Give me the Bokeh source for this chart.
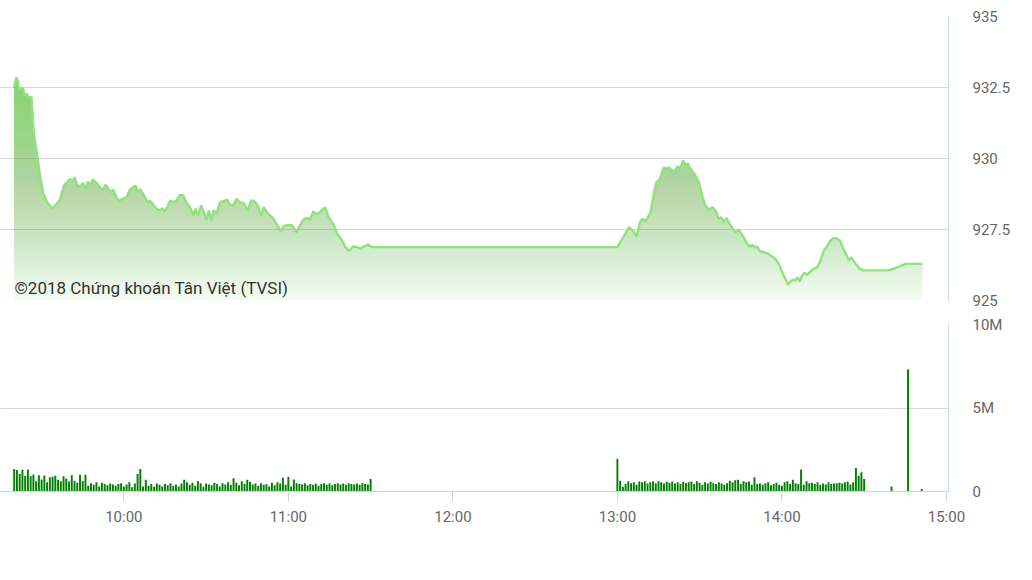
import numpy as np
from bokeh.plotting import figure
from bokeh.layouts import column
from bokeh.models import Range1d, FixedTicker, Label
from bokeh.embed import file_html
from bokeh.resources import INLINE

# ---------------- data ----------------
# price line: time in minutes after 09:00, index value
price_min = [
    19.9, 20.8, 21.3, 21.7, 22.5, 23.3, 23.8, 24.5, 25.3, 26.3,
    27.1, 28.4, 29.6, 30.6, 32.0, 33.9, 35.1, 36.6, 38.1, 39.3,
    40.3, 41.2, 42.0, 43.0, 44.2, 45.2, 46.0, 46.8, 47.8, 48.8,
    50.3, 51.5, 52.5, 53.3, 54.1, 55.1, 56.1, 57.0, 58.1, 59.4,
    61.0, 62.2, 63.4, 64.2, 65.1, 66.1, 67.3, 68.7, 69.5, 70.7,
    71.9, 73.1, 74.1, 74.8, 75.8, 77.0, 78.0, 79.2, 80.4, 81.6,
    82.8, 84.3, 85.3, 86.1, 87.0, 88.2, 89.2, 90.1, 91.0, 92.0,
    92.8, 93.8, 95.0, 96.4, 97.7, 98.6, 99.9, 101.1, 102.3, 103.7,
    105.2, 106.4, 107.6, 108.8, 110.1, 111.0, 112.5, 114.1, 115.7, 117.1,
    118.3, 119.8, 121.4, 123.0, 124.2, 125.4, 126.9, 127.8, 129.1, 130.3,
    131.5, 132.7, 133.5, 134.7, 136.3, 137.8, 139.6, 140.8, 142.0, 143.6,
    145.1, 146.3, 147.5, 149.0, 150.6,
    240.0, 241.8, 244.2, 245.8, 247.0, 248.2, 249.1, 250.3, 252.1, 253.5,
    254.3, 255.5, 256.9, 257.9, 258.8, 259.6, 260.8, 262.0, 263.0, 264.0,
    264.9, 265.7, 266.7, 268.1, 269.7, 270.9, 272.1, 273.4, 274.6, 275.8,
    277.0, 277.9, 278.8, 279.8, 281.3, 283.1, 284.3, 285.9, 287.4, 288.3,
    289.2, 290.0, 291.0, 291.9, 293.4, 295.2, 296.5, 297.7, 298.9, 300.1,
    301.3, 302.2, 303.1, 304.1, 305.0, 305.6, 306.5, 307.4, 308.3, 309.2,
    310.4, 311.6, 312.9, 314.1, 315.3, 316.5, 317.7, 318.7, 319.9, 321.1,
    322.4, 323.6, 324.4, 325.3, 326.9, 328.4, 329.7, 339.0, 342.1, 345.1,
    351.2,
]
price_val = [
    932.51, 932.86, 932.75, 932.39, 932.48, 932.45, 932.24, 932.28, 932.16, 932.16,
    930.93, 930.10, 929.28, 928.76, 928.46, 928.23, 928.37, 928.52, 929.05, 929.17,
    929.28, 929.19, 929.34, 929.05, 929.03, 929.14, 928.93, 929.17, 929.11, 929.26,
    929.11, 928.95, 928.93, 929.07, 928.99, 928.81, 928.90, 928.70, 928.49, 928.58,
    928.64, 928.91, 928.99, 929.05, 928.84, 928.91, 928.70, 928.44, 928.52, 928.37,
    928.23, 928.17, 928.25, 928.13, 928.29, 928.52, 928.46, 928.52, 928.72, 928.70,
    928.46, 928.25, 927.99, 928.23, 927.99, 928.35, 928.11, 927.84, 928.17, 927.82,
    928.19, 928.05, 928.46, 928.50, 928.55, 928.38, 928.35, 928.58, 928.46, 928.43,
    928.17, 928.52, 928.50, 928.35, 927.99, 928.29, 928.07, 927.93, 927.70, 927.44,
    927.61, 927.66, 927.64, 927.40, 927.64, 927.84, 927.91, 927.82, 928.14, 928.03,
    928.11, 928.23, 928.26, 927.93, 927.70, 927.35, 927.11, 926.88, 926.74, 926.90,
    926.88, 926.82, 926.90, 926.97, 926.88,
    926.88, 927.17, 927.58, 927.46, 927.25, 927.76, 927.88, 927.79, 928.11, 928.87,
    929.17, 929.28, 929.69, 929.64, 929.69, 929.60, 929.55, 929.72, 929.67, 929.93,
    929.75, 929.83, 929.64, 929.46, 929.17, 928.70, 928.35, 928.19, 928.29, 928.17,
    927.88, 927.93, 927.76, 927.90, 927.64, 927.40, 927.49, 927.25, 926.99, 926.88,
    926.97, 926.86, 926.90, 926.74, 926.70, 926.64, 926.55, 926.45, 926.29, 926.00,
    925.76, 925.55, 925.67, 925.74, 925.70, 925.82, 925.67, 925.88, 925.98, 925.90,
    926.02, 926.12, 926.17, 926.41, 926.76, 926.91, 927.11, 927.19, 927.19, 927.11,
    926.82, 926.58, 926.41, 926.52, 926.29, 926.12, 926.06, 926.06, 926.17, 926.29,
    926.29,
]

# volume (million shares), one bar per minute
vol_am_start = 20   # 09:20
vol_am = [
    1.34, 1.28, 1.05, 1.30, 0.95, 1.32, 0.92, 1.02, 0.62, 0.98,
    0.72, 0.96, 0.55, 0.85, 0.88, 0.95, 0.70, 0.62, 0.92, 0.78,
    0.60, 0.98, 0.65, 0.52, 1.00, 0.62, 1.00, 0.35, 0.50, 0.40,
    0.55, 0.30, 0.52, 0.45, 0.38, 0.48, 0.42, 0.35, 0.45, 0.50,
    0.30, 0.42, 0.55, 0.25, 0.48, 1.05, 1.34, 0.30, 0.70, 0.35,
    0.45, 0.28, 0.48, 0.40, 0.30, 0.45, 0.38, 0.50, 0.35, 0.42,
    0.30, 0.48, 0.70, 0.55, 0.40, 0.52, 0.35, 0.62, 0.50, 0.28,
    0.48, 0.42, 0.38, 0.52, 0.45, 0.30, 0.50, 0.42, 0.55, 0.40,
    0.80, 0.52, 0.38, 0.62, 0.45, 0.70, 0.58, 0.42, 0.48, 0.35,
    0.50, 0.40, 0.45, 0.30, 0.52, 0.38, 0.55, 0.48, 0.82, 0.40,
    0.88, 0.30, 0.72, 0.50, 0.45, 0.42, 0.50, 0.38, 0.45, 0.40,
    0.48, 0.35, 0.45, 0.50, 0.40, 0.48, 0.38, 0.45, 0.50, 0.42,
    0.48, 0.40, 0.50, 0.45, 0.42, 0.48, 0.40, 0.50, 0.45, 0.42,
    0.75,
]
vol_pm_start = 240  # 13:00
vol_pm = [
    1.96,
    0.65, 0.28, 0.45, 0.62, 0.50, 0.55, 0.40, 0.60, 0.55, 0.62,
    0.48, 0.55, 0.60, 0.50, 0.62, 0.55, 0.48, 0.58, 0.52, 0.60,
    0.48, 0.55, 0.45, 0.58, 0.50, 0.55, 0.60, 0.45, 0.62, 0.52,
    0.40, 0.55, 0.48, 0.58, 0.50, 0.45, 0.55, 0.48, 0.40, 0.50,
    0.65, 0.55, 0.68, 0.70, 0.45, 0.62, 0.55, 0.60, 0.40, 0.85,
    0.45, 0.48, 0.40, 0.50, 0.55, 0.38, 0.45, 0.52, 0.40, 0.35,
    0.55, 0.62, 0.45, 0.70, 0.50, 0.45, 1.32, 0.40, 0.62, 0.50,
    0.52, 0.45, 0.55, 0.40, 0.48, 0.42, 0.55, 0.45, 0.48, 0.50,
    0.52, 0.48, 0.55, 0.60, 0.42, 0.55, 1.40, 0.95, 1.15, 0.75,
]
vol_extra_min = [340, 346, 351]
vol_extra = [0.30, 7.30, 0.15]

price_ticks = [925, 927.5, 930, 932.5, 935]
price_tick_labels = ["925", "927.5", "930", "932.5", "935"]
vol_ticks = [0, 5, 10]
vol_tick_labels = ["0", "5M", "10M"]
time_ticks = [60, 120, 180, 240, 300, 360]
time_tick_labels = ["10:00", "11:00", "12:00", "13:00", "14:00", "15:00"]
copyright_text = "©2018 Chứng khoán Tân Việt (TVSI)"

# ---------------- style ----------------
FONT = "Roboto"
LINE_COLOR = "#8fe37c"
FILL_COLOR = "#84df6e"
GRID_COLOR = "#d8d8d8"
AXIS_COLOR = "#ccd6eb"
LABEL_COLOR = "#666666"
BAR_COLOR = "#008000"

x_range = Range1d(15.0, 360.77)

def style_right_axis(ax, ticks, labels):
    ax.ticker = FixedTicker(ticks=ticks)
    ax.major_label_overrides = {t: l for t, l in zip(ticks, labels)}
    ax.axis_line_color = AXIS_COLOR
    ax.major_tick_line_color = None
    ax.minor_tick_line_color = None
    ax.major_tick_out = 0
    ax.major_tick_in = 0
    ax.major_label_standoff = 24
    ax.major_label_text_color = LABEL_COLOR
    ax.major_label_text_font = FONT
    ax.major_label_text_font_size = "15px"

# ---------------- price panel ----------------
p1 = figure(frame_width=948, frame_height=284, x_range=x_range,
            y_range=Range1d(925, 935), x_axis_location=None,
            y_axis_location="right", toolbar_location=None, tools="",
            output_backend="svg", min_border_left=0, min_border_top=16,
            min_border_bottom=12, min_border_right=10)
p1.outline_line_color = None
p1.xgrid.visible = False
p1.ygrid.grid_line_color = GRID_COLOR
p1.ygrid.ticker = FixedTicker(ticks=price_ticks)
style_right_axis(p1.yaxis[0], price_ticks, price_tick_labels)

px = np.array(price_min)
pv = np.array(price_val)
# vertical gradient fill: stacked translucent layers
prev = 0.0
step = 0.1
for k in range(80):
    lo = 925 + k * step
    frac = ((lo + step / 2) - 925) / 8.0
    target = 0.08 + 0.87 * frac ** 0.85
    alpha = 1 - (1 - target) / (1 - prev)
    prev = target
    p1.varea(x=px, y1=lo, y2=np.maximum(pv, lo), fill_color=FILL_COLOR,
             fill_alpha=alpha)
p1.line(px, pv, line_color=LINE_COLOR, line_width=2.4)

p1.add_layout(Label(x=14, y=3, x_units="screen", y_units="screen",
                    text=copyright_text, text_font=FONT,
                    text_font_size="17px", text_color="#333333",
                    text_baseline="bottom"))

# ---------------- volume panel ----------------
p2 = figure(frame_width=948, frame_height=167, x_range=x_range,
            y_range=Range1d(0, 10), y_axis_location="right",
            toolbar_location=None, tools="", output_backend="svg",
            min_border_left=0, min_border_top=12, min_border_bottom=10,
            min_border_right=10)
p2.outline_line_color = None
p2.xgrid.visible = False
p2.ygrid.grid_line_color = GRID_COLOR
p2.ygrid.ticker = FixedTicker(ticks=vol_ticks)
style_right_axis(p2.yaxis[0], vol_ticks, vol_tick_labels)

vx = ([vol_am_start + i for i in range(len(vol_am))] +
      [vol_pm_start + i for i in range(len(vol_pm))] + vol_extra_min)
vv = vol_am + vol_pm + vol_extra
p2.vbar(x=vx, top=vv, bottom=0, width=0.7, fill_color=BAR_COLOR,
        line_color=None)

xa = p2.xaxis[0]
xa.ticker = FixedTicker(ticks=time_ticks)
xa.major_label_overrides = {t: l for t, l in zip(time_ticks, time_tick_labels)}
xa.axis_line_color = AXIS_COLOR
xa.major_tick_line_color = AXIS_COLOR
xa.minor_tick_line_color = None
xa.major_tick_out = 10
xa.major_tick_in = 0
xa.major_label_standoff = 6
xa.major_label_text_color = LABEL_COLOR
xa.major_label_text_font = FONT
xa.major_label_text_font_size = "15px"

layout = column(p1, p2, spacing=0)
open("out.html", "w").write(file_html(layout, INLINE))
